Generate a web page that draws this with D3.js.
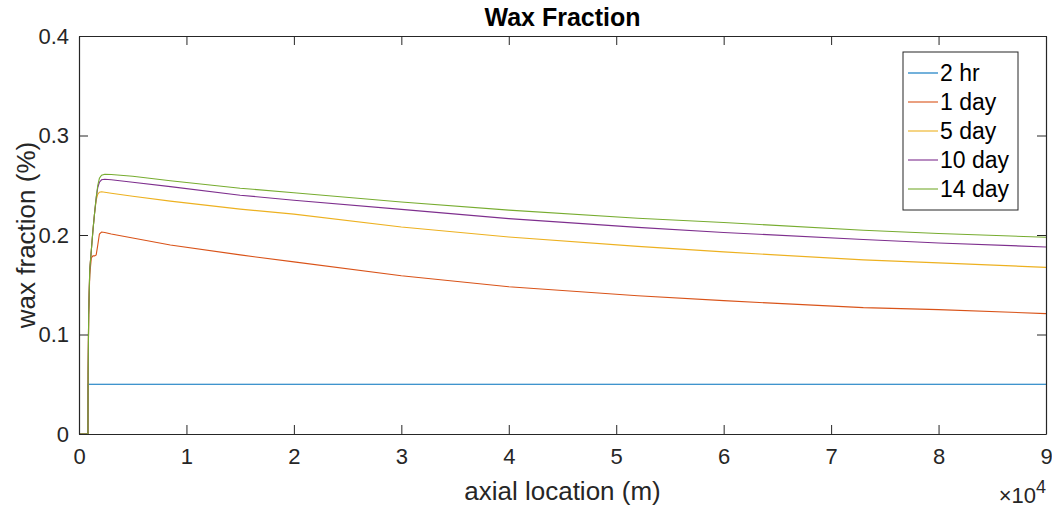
<!DOCTYPE html>
<html>
<head>
<meta charset="utf-8">
<script src="https://cdn.jsdelivr.net/npm/d3@7"></script>
<style>
  html, body { margin: 0; padding: 0; background: #fff; }
  svg { display: block; font-family: "Liberation Sans", Arial, sans-serif; }
</style>
</head>
<body>
<svg id="chart" width="1052" height="508"></svg>
<script>
// ---- data ----
const xs = [0, 830, 850, 900, 1000, 1150, 1300, 1450, 1600, 1750, 1900, 2100, 2400, 3000, 5000, 8500, 15000, 20000, 30000, 40000, 52000, 60000, 73000, 80000, 90000];
const seriesNames = ["2 hr", "1 day", "5 day", "10 day", "14 day"];
const y2hr   = [0, 0, 0.05, 0.05, 0.05, 0.05, 0.05, 0.05, 0.05, 0.05, 0.05, 0.05, 0.05, 0.05, 0.05, 0.05, 0.05, 0.05, 0.05, 0.05, 0.05, 0.05, 0.05, 0.05, 0.05];
const y1day  = [0, 0, 0.06, 0.12, 0.160, 0.177, 0.179, 0.179, 0.180, 0.190, 0.201, 0.203, 0.2025, 0.201, 0.197, 0.190, 0.180, 0.173, 0.159, 0.148, 0.139, 0.134, 0.127, 0.125, 0.121];
const y5day  = [0, 0, 0.06, 0.12, 0.165, 0.185, 0.205, 0.222, 0.235, 0.241, 0.243, 0.2435, 0.243, 0.242, 0.239, 0.234, 0.226, 0.221, 0.208, 0.198, 0.1886, 0.183, 0.175, 0.172, 0.1675];
const y10day = [0, 0, 0.06, 0.12, 0.165, 0.185, 0.205, 0.222, 0.237, 0.248, 0.253, 0.2555, 0.256, 0.2555, 0.253, 0.2486, 0.240, 0.235, 0.2258, 0.2165, 0.2077, 0.2025, 0.1955, 0.192, 0.188];
const y14day = [0, 0, 0.06, 0.12, 0.165, 0.185, 0.205, 0.222, 0.238, 0.250, 0.257, 0.260, 0.261, 0.2608, 0.259, 0.2546, 0.247, 0.2425, 0.2332, 0.225, 0.2168, 0.2125, 0.2048, 0.2015, 0.1977];
const seriesValues = [y2hr, y1day, y5day, y10day, y14day];
const colors = ["#0072BD", "#D95319", "#EDB120", "#7E2F8E", "#77AC30"];
const xTicks = [0, 10000, 20000, 30000, 40000, 50000, 60000, 70000, 80000, 90000];
const xTickLabels = ["0", "1", "2", "3", "4", "5", "6", "7", "8", "9"];
const yTicks = [0, 0.1, 0.2, 0.3, 0.4];
const yTickLabels = ["0", "0.1", "0.2", "0.3", "0.4"];

// ---- layout ----
const svg = d3.select("#chart");
const m = { left: 79, top: 36, right: 1046, bottom: 434 };
const x = d3.scaleLinear().domain([0, 90000]).range([m.left, m.right]);
const y = d3.scaleLinear().domain([0, 0.4]).range([m.bottom, m.top]);
const axisColor = "#262626";

// lines (clipped to plot area)
svg.append("clipPath").attr("id", "clip").append("rect")
  .attr("x", m.left).attr("y", m.top - 1).attr("width", m.right - m.left).attr("height", m.bottom - m.top + 2);

const line = d3.line().x((d, i) => x(xs[i])).y(d => y(d));
const g = svg.append("g").attr("clip-path", "url(#clip)");
seriesValues.forEach((vals, k) => {
  g.append("path").datum(vals)
    .attr("fill", "none").attr("stroke", colors[k]).attr("stroke-width", 1.1)
    .attr("d", line);
});

// axes box
const tickLen = 9;
const xAxisB = d3.axisBottom(x).tickValues(xTicks).tickFormat((d, i) => xTickLabels[i]).tickSizeInner(-tickLen).tickSizeOuter(0).tickPadding(14);
const xAxisT = d3.axisTop(x).tickValues(xTicks).tickFormat("").tickSizeInner(-tickLen).tickSizeOuter(0);
const yAxisL = d3.axisLeft(y).tickValues(yTicks).tickFormat((d, i) => yTickLabels[i]).tickSizeInner(-tickLen).tickSizeOuter(0).tickPadding(10);
const yAxisR = d3.axisRight(y).tickValues(yTicks).tickFormat("").tickSizeInner(-tickLen).tickSizeOuter(0);

function styleAxis(sel) {
  sel.selectAll("path.domain").attr("stroke", axisColor).attr("stroke-width", 1.2);
  sel.selectAll(".tick line").attr("stroke", axisColor).attr("stroke-width", 1);
  sel.selectAll(".tick text").attr("fill", axisColor).style("font-size", "22px").style("font-family", "'Liberation Sans', Arial, sans-serif");
}
styleAxis(svg.append("g").attr("transform", `translate(0,${m.bottom})`).call(xAxisB));
styleAxis(svg.append("g").attr("transform", `translate(0,${m.top})`).call(xAxisT));
styleAxis(svg.append("g").attr("transform", `translate(${m.left},0)`).call(yAxisL));
styleAxis(svg.append("g").attr("transform", `translate(${m.right},0)`).call(yAxisR));

// title
svg.append("text").attr("x", (m.left + m.right) / 2).attr("y", 26)
  .attr("text-anchor", "middle").attr("font-weight", "bold").attr("font-size", "25px").attr("fill", "#000")
  .text("Wax Fraction");

// axis labels
svg.append("text").attr("x", (m.left + m.right) / 2).attr("y", 500)
  .attr("text-anchor", "middle").attr("font-size", "26px").attr("fill", axisColor)
  .text("axial location (m)");
svg.append("text").attr("transform", `translate(35,${(m.top + m.bottom) / 2}) rotate(-90)`)
  .attr("text-anchor", "middle").attr("font-size", "26px").attr("fill", axisColor)
  .text("wax fraction (%)");

// exponent label
const ex = svg.append("text").attr("x", 1046).attr("y", 503).attr("text-anchor", "end").attr("fill", axisColor).attr("font-size", "22px");
ex.append("tspan").text("\u00d710");
ex.append("tspan").attr("dy", -10).attr("font-size", "18px").text("4");

// legend
const lg = svg.append("g");
const lgX = 903, lgY = 52, lgW = 115, lgH = 158, rowH = 29;
lg.append("rect").attr("x", lgX).attr("y", lgY).attr("width", lgW).attr("height", lgH)
  .attr("fill", "#fff").attr("stroke", axisColor).attr("stroke-width", 1);
seriesNames.forEach((name, k) => {
  const cy = lgY + 21 + k * rowH;
  lg.append("line").attr("x1", lgX + 5).attr("x2", lgX + 35).attr("y1", cy).attr("y2", cy)
    .attr("stroke", colors[k]).attr("stroke-width", 1.1);
  lg.append("text").attr("x", lgX + 37).attr("y", cy + 8).attr("font-size", "23px").attr("fill", "#000").text(name);
});
</script>
</body>
</html>
